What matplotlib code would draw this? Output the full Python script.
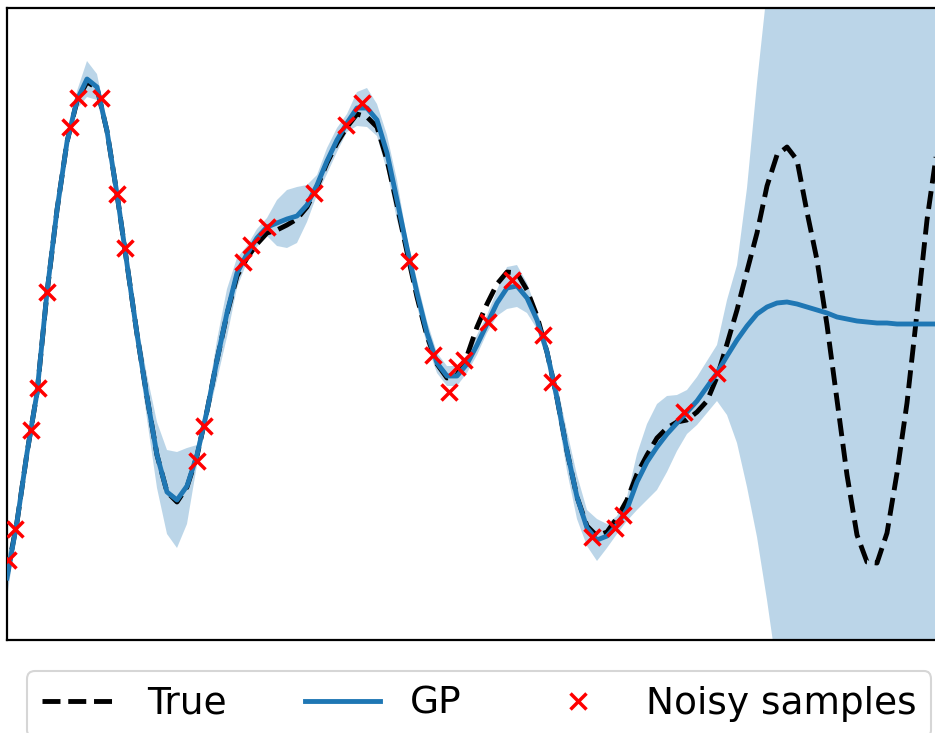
import matplotlib
matplotlib.use("Agg")
import matplotlib.pyplot as plt
import numpy as np

# ---- data ----
x_grid = [0.0, 0.1, 0.2, 0.3, 0.4, 0.5, 0.6, 0.7, 0.8, 0.9,
          1.0, 1.1, 1.2, 1.3, 1.4, 1.5, 1.6, 1.7, 1.8, 1.9,
          2.0, 2.1, 2.2, 2.3, 2.4, 2.5, 2.6, 2.7, 2.8, 2.9,
          3.0, 3.1, 3.2, 3.3, 3.4, 3.5, 3.6, 3.7, 3.8, 3.9,
          4.0, 4.1, 4.2, 4.3, 4.4, 4.5, 4.6, 4.7, 4.8, 4.9,
          5.0, 5.1, 5.2, 5.3, 5.4, 5.5, 5.6, 5.7, 5.8, 5.9,
          6.0, 6.1, 6.2, 6.3, 6.4, 6.5, 6.6, 6.7, 6.8, 6.9,
          7.0, 7.1, 7.2, 7.3, 7.4, 7.5, 7.6, 7.7, 7.8, 7.9,
          8.0, 8.1, 8.2, 8.3, 8.4, 8.5, 8.6, 8.7, 8.8, 8.9,
          9.0, 9.1, 9.2, 9.3]

true_vals = [-2.35, -1.82, -1.13, -0.53, 0.47, 1.30, 1.98, 2.39, 2.58, 2.52,
             2.09, 1.46, 0.76, 0.06, -0.57, -1.15, -1.52, -1.62, -1.47, -1.16,
             -0.71, -0.20, 0.26, 0.64, 0.82, 0.96, 1.07, 1.10, 1.15, 1.21,
             1.33, 1.53, 1.77, 1.97, 2.13, 2.26, 2.23, 2.13, 1.80, 1.35,
             0.88, 0.43, 0.04, -0.24, -0.38, -0.35, -0.16, 0.13, 0.36, 0.56,
             0.68, 0.67, 0.50, 0.24, -0.12, -0.58, -1.11, -1.57, -1.86, -1.96,
             -1.92, -1.78, -1.60, -1.34, -1.15, -0.98, -0.88, -0.82, -0.80, -0.72,
             -0.61, -0.37, -0.04, 0.30, 0.69, 1.07, 1.54, 1.85, 1.93, 1.80,
             1.28, 0.80, 0.15, -0.60, -1.35, -1.95, -2.22, -2.23, -1.93, -1.33,
             -0.63, 0.27, 1.20, 1.90]

gp_mean = [-2.38, -1.82, -1.13, -0.53, 0.48, 1.30, 1.98, 2.40, 2.61, 2.53,
           2.09, 1.46, 0.76, 0.06, -0.57, -1.15, -1.52, -1.60, -1.46, -1.15,
           -0.71, -0.20, 0.27, 0.67, 0.86, 1.02, 1.13, 1.17, 1.21, 1.24,
           1.35, 1.55, 1.79, 2.00, 2.17, 2.32, 2.32, 2.20, 1.87, 1.40,
           0.92, 0.47, 0.07, -0.23, -0.36, -0.36, -0.24, -0.05, 0.16, 0.37,
           0.52, 0.54, 0.42, 0.20, -0.12, -0.58, -1.11, -1.57, -1.88, -2.00,
           -1.96, -1.85, -1.69, -1.42, -1.22, -1.07, -0.94, -0.83, -0.72, -0.61,
           -0.47, -0.33, -0.16, 0.00, 0.14, 0.26, 0.33, 0.37, 0.38, 0.36,
           0.33, 0.30, 0.27, 0.23, 0.21, 0.19, 0.18, 0.17, 0.17, 0.16,
           0.16, 0.16, 0.16, 0.16]

band_upper = [-2.18, -1.74, -1.04, -0.45, 0.57, 1.41, 2.07, 2.49, 2.79, 2.66,
              2.18, 1.53, 0.85, 0.20, -0.35, -0.82, -1.10, -1.12, -1.08, -1.05,
              -0.61, 0.00, 0.51, 0.82, 0.94, 1.11, 1.22, 1.40, 1.50, 1.53,
              1.55, 1.65, 1.92, 2.12, 2.26, 2.48, 2.52, 2.36, 2.05, 1.60,
              1.02, 0.60, 0.19, -0.13, -0.26, -0.26, -0.15, 0.05, 0.25, 0.50,
              0.73, 0.75, 0.57, 0.29, -0.03, -0.44, -0.91, -1.35, -1.70, -1.79,
              -1.84, -1.76, -1.57, -1.14, -0.84, -0.64, -0.56, -0.55, -0.50, -0.37,
              -0.21, -0.05, 0.40, 0.75, 1.52, 2.57, 3.50, 4.40, 5.50, 6.50,
              6.50, 6.50, 6.50, 6.50, 6.50, 6.50, 6.50, 6.50, 6.50, 6.50,
              6.50, 6.50, 6.50, 6.50]

band_lower = [-2.58, -1.90, -1.22, -0.61, 0.39, 1.19, 1.89, 2.31, 2.43, 2.40,
              2.00, 1.39, 0.67, -0.08, -0.79, -1.48, -1.94, -2.08, -1.84, -1.25,
              -0.81, -0.40, 0.03, 0.52, 0.78, 0.93, 1.04, 0.94, 0.92, 0.97,
              1.18, 1.45, 1.66, 1.88, 2.08, 2.14, 2.13, 2.04, 1.69, 1.20,
              0.82, 0.34, -0.05, -0.33, -0.46, -0.46, -0.33, -0.15, 0.07, 0.24,
              0.31, 0.33, 0.27, 0.11, -0.21, -0.72, -1.31, -1.79, -2.06, -2.21,
              -2.08, -1.94, -1.81, -1.70, -1.60, -1.50, -1.32, -1.11, -0.94, -0.85,
              -0.73, -0.61, -0.75, -1.03, -1.47, -1.97, -2.60, -3.30, -4.80, -5.80,
              -5.80, -5.80, -5.80, -5.80, -5.80, -5.80, -5.80, -5.80, -5.80, -5.80,
              -5.80, -5.80, -5.80, -5.80]

sample_x = [0.01, 0.08, 0.24, 0.31, 0.40, 0.63, 0.71, 0.94, 1.10, 1.18,
            1.90, 1.97, 2.36, 2.44, 2.60, 3.07, 3.39, 3.55, 4.02, 4.26,
            4.42, 4.50, 4.57, 4.81, 5.05, 5.36, 5.45, 5.85, 6.08, 6.16,
            6.77, 7.10]
sample_y = [-2.20, -1.89, -0.90, -0.48, 0.48, 2.13, 2.42, 2.42, 1.46, 0.92,
            -1.21, -0.86, 0.78, 0.95, 1.13, 1.47, 2.15, 2.37, 0.79, -0.15,
            -0.52, -0.27, -0.20, 0.18, 0.60, 0.05, -0.42, -1.97, -1.88, -1.75,
            -0.72, -0.33]

legend_labels = ["True", "GP", "Noisy samples"]

# ---- figure ----
W, H = 935, 733
fig = plt.figure(figsize=(W / 100, H / 100), dpi=100)
ax = fig.add_axes([7 / W, 1 - 640 / H, 933 / W, 632 / H])

l_true, = ax.plot(x_grid, true_vals, color="black", linestyle="--", lw=3.5,
                  label=legend_labels[0], zorder=2)
l_gp, = ax.plot(x_grid, gp_mean, color="#1f77b4", lw=3.5,
                label=legend_labels[1], zorder=3)
ax.fill_between(x_grid, band_lower, band_upper, color="#1f77b4", alpha=0.3,
                linewidth=0, zorder=1)
l_s, = ax.plot(sample_x, sample_y, linestyle="none", marker="x", color="red",
               markersize=11, markeredgewidth=2.5, label=legend_labels[2],
               zorder=4)

ax.set_xlim(0, 9.33)
ax.set_ylim(-3.0, 3.32)
ax.set_xticks([])
ax.set_yticks([])
for s in ax.spines.values():
    s.set_linewidth(1.6)

leg = fig.legend(handles=[l_true, l_gp, l_s], loc="upper left",
                 bbox_to_anchor=(27 / W, 1 - 671 / H),
                 bbox_transform=fig.transFigure, borderaxespad=0,
                 ncol=3, fontsize=27, columnspacing=2.1, frameon=True)
leg.get_frame().set_linewidth(1.5)

fig.savefig("out.png", dpi=100)
